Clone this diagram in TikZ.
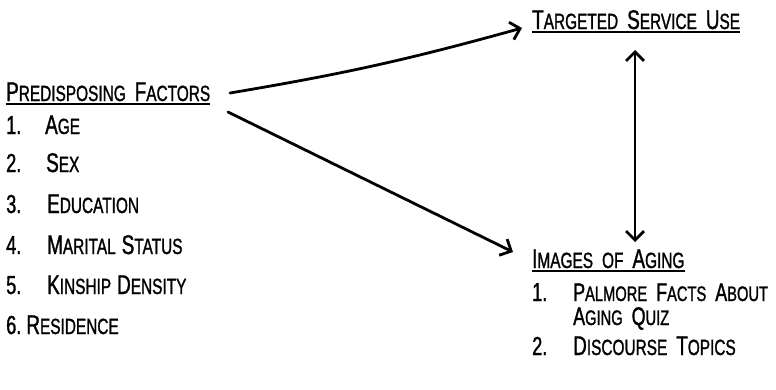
\documentclass[tikz,border=0pt]{standalone}
\usepackage{fontspec}
\usetikzlibrary{arrows.meta,calc}
\newfontfamily\tw[FakeStretch=0.7,FakeBold=1.2]{Liberation Sans}
\newcommand\SC[2]{{\fontsize{27}{27}\selectfont #1}{\fontsize{22}{22}\selectfont #2}}
\newcommand\SCs[2]{{\fontsize{25.5}{25}\selectfont #1}{\fontsize{21}{21}\selectfont #2}}
\newcommand\NUM[1]{{\fontsize{26}{26}\selectfont #1}}
\newcommand\WS{\hspace{9pt}}
\newcommand\IS{\hspace{6pt}}
\tikzset{
  txt/.style={anchor=base west, inner sep=0pt, font=\tw},
  ul/.style={line width=1.8pt},
  conn/.style={line width=2.8pt, line cap=round, -{Straight Barb[length=9pt,width=18pt,line width=2.8pt]}},
  dconn/.style={line width=2.8pt, line cap=round, {Straight Barb[length=9pt,width=18pt,line width=2.8pt]}-{Straight Barb[length=9pt,width=18pt,line width=2.8pt]}}
}
\begin{document}
\begin{tikzpicture}[x=1pt,y=-1pt]
\useasboundingbox (0,0) rectangle (776,389);
% headings
\node[txt] (pred) at (6,101) {\SC{P}{REDISPOSING}\WS\SC{F}{ACTORS}};
\node[txt] (tsu) at (532,29) {\SC{T}{ARGETED}\WS\SC{S}{ERVICE}\WS\SC{U}{SE}};
\node[txt] (img) at (532,268) {\SC{I}{MAGES}\WS\SC{}{OF}\WS\SC{A}{GING}};
\foreach \n in {pred,tsu,img}
  \draw[ul] ([yshift=-3pt]\n.base west) -- ([yshift=-3pt]\n.base east);
% left list
\node[txt] (n1) at (6,134) {\NUM{1.}};
\node[txt] (i1) at (45,134) {\SC{A}{GE}};
\node[txt] (n2) at (6,172) {\NUM{2.}};
\node[txt] (i2) at (46,172) {\SC{S}{EX}};
\node[txt] (n3) at (6,213) {\NUM{3.}};
\node[txt] (i3) at (47,213) {\SC{E}{DUCATION}};
\node[txt] (n4) at (6,254) {\NUM{4.}};
\node[txt] (i4) at (47,254) {\SC{M}{ARITAL}\IS\SC{S}{TATUS}};
\node[txt] (n5) at (6,294) {\NUM{5.}};
\node[txt] (i5) at (47,294) {\SC{K}{INSHIP}\IS\SC{D}{ENSITY}};
\node[txt] (i6) at (6,334) {\NUM{6.}\hspace{5pt}\SC{R}{ESIDENCE}};
% right list
\node[txt] (r1) at (532,301) {\NUM{1.}};
\node[txt] (j1) at (573,301) {\SCs{P}{ALMORE}\WS\SCs{F}{ACTS}\WS\SCs{A}{BOUT}};
\node[txt] (j1b) at (573,325) {\SCs{A}{GING}\WS\SCs{Q}{UIZ}};
\node[txt] (r2) at (532,355) {\NUM{2.}};
\node[txt] (j2) at (573,355) {\SC{D}{ISCOURSE}\WS\SC{T}{OPICS}};
% connector ends
\coordinate (a1) at (230,93);
\coordinate (a2) at (522,28);
\coordinate (b1) at (228,112);
\coordinate (b2) at (513,252);
\coordinate (c1) at (635,50);
\coordinate (c2) at (635,242);
\draw[conn] (a1) to[bend right=3] (a2);
\draw[conn] (b1) -- (b2);
\draw[dconn] (c2) -- (c1);
\end{tikzpicture}
\end{document}
